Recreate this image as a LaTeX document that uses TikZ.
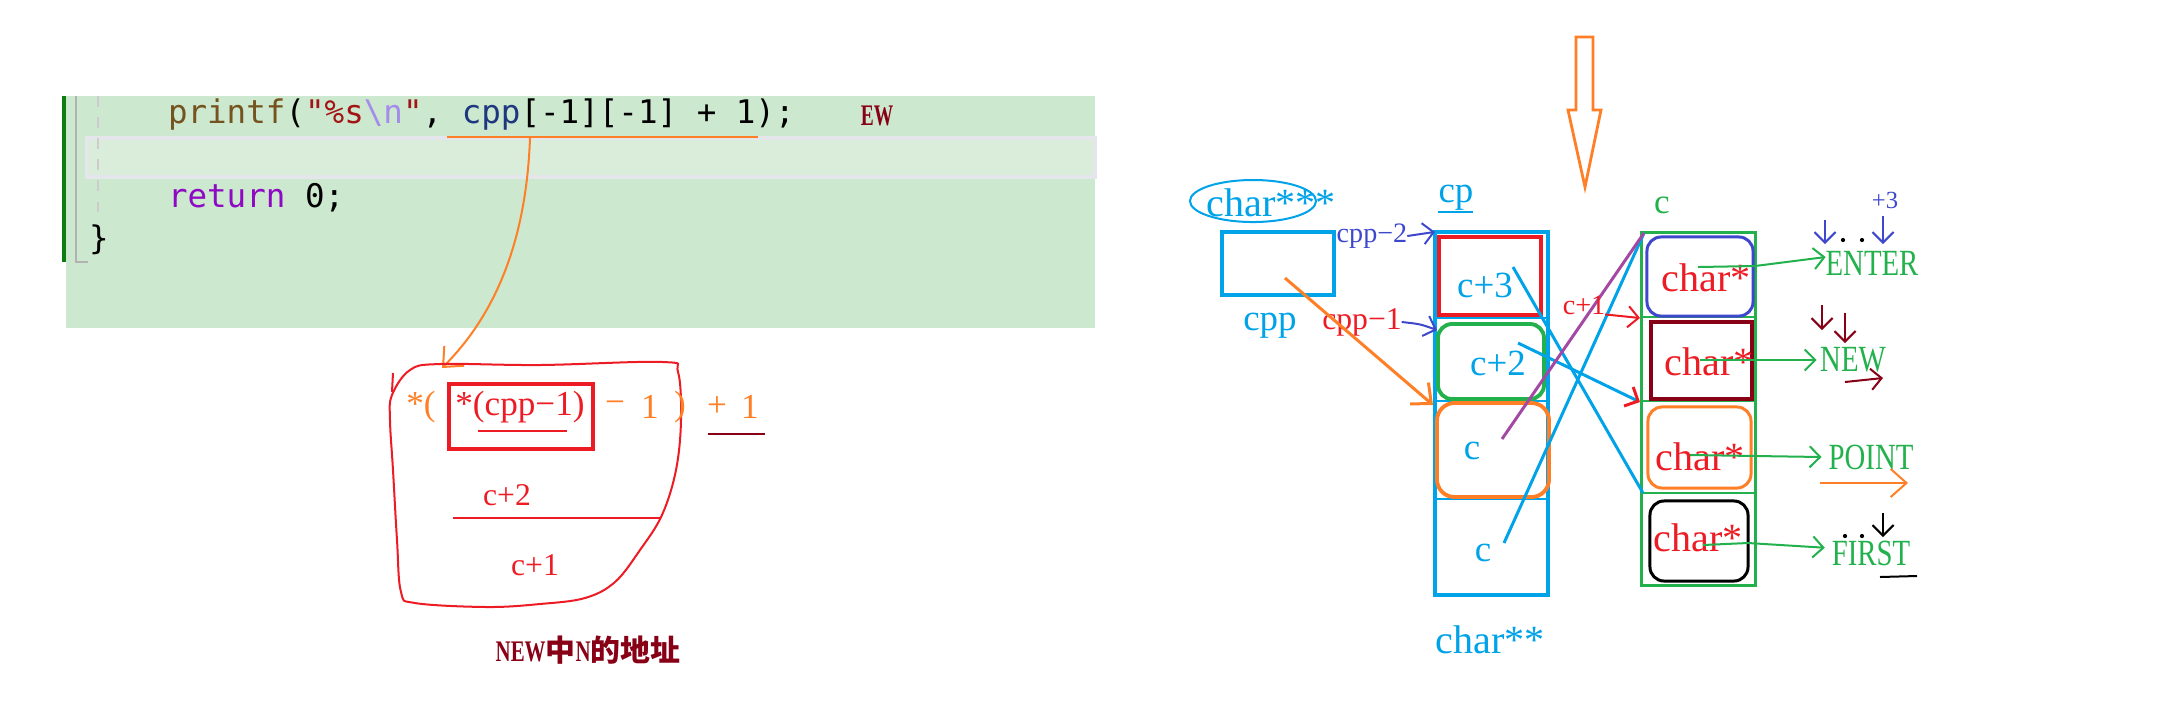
\documentclass[tikz,border=0pt]{standalone}
\usepackage{fontspec}
\setmainfont{Liberation Serif}
\newfontfamily\codefont{DejaVu Sans Mono}
\newfontfamily\cjk{Noto Sans CJK SC}
\usepackage{graphicx}
\usepackage{xcolor}
\usepackage{tikz}
\usetikzlibrary{arrows.meta,shapes,positioning,calc}

\definecolor{pblue}{RGB}{0,162,232}
\definecolor{pred}{RGB}{237,28,36}
\definecolor{pgreen}{RGB}{34,177,76}
\definecolor{porange}{RGB}{255,127,39}
\definecolor{pindigo}{RGB}{63,72,204}
\definecolor{pdarkred}{RGB}{136,0,21}
\definecolor{ppurple}{RGB}{163,73,164}
\definecolor{codebg}{RGB}{204,232,207}
\definecolor{codehl}{RGB}{218,237,219}
\definecolor{hlborder}{RGB}{228,230,235}
\definecolor{fnbrown}{RGB}{116,83,31}
\definecolor{strred}{RGB}{163,21,21}
\definecolor{esclav}{RGB}{165,140,235}
\definecolor{varblue}{RGB}{31,55,127}
\definecolor{kwpurple}{RGB}{143,8,196}
\definecolor{gutter}{RGB}{16,124,16}

\newcommand{\narrowtxt}[2][0.78]{\scalebox{#1}[1]{#2}}

\begin{document}
\begin{tikzpicture}[x=0.01cm, y=-0.01cm,
    every node/.style={inner sep=0pt, outer sep=0pt},
    code/.style={anchor=west, font=\codefont\fontsize{9.25}{11}\selectfont},
    hand/.style={font=\fontsize{10}{12}\selectfont},
    small/.style={font=\fontsize{8}{10}\selectfont},
    mid/.style={font=\fontsize{9}{11}\selectfont},
    big/.style={font=\fontsize{11.4}{13}\selectfont},
    word/.style={text=pgreen, font=\fontsize{10.5}{12}\selectfont},
    pen/.style={line width=0.57pt},
    fatpen/.style={line width=1.1pt},
    barb/.style={-{Straight Barb[length=3pt,width=6pt]}},
    bigbarb/.style={-{Straight Barb[length=4.5pt,width=8pt]}},
]
\useasboundingbox (0,0) rectangle (2162,720);

% Code window
\fill[codebg] (66,96) rectangle (1095,328);
\filldraw[fill=codehl, draw=hlborder, line width=1pt] (87,138) rectangle (1095,177);
\draw[gutter, line width=1.2pt] (64,96) -- (64,262);
\draw[gray!60, line width=0.5pt] (76,96) -- (76,262) -- (88,262);
\draw[gray!40, dashed, line width=0.5pt] (98,96) -- (98,218);
\node[code] (line1) at (168,115) {\textcolor{fnbrown}{printf}(\textcolor{strred}{"\%s}\textcolor{esclav}{\textbackslash n}\textcolor{strred}{"}, \textcolor{varblue}{cpp}[-1][-1] + 1);};
\node[code] (line2) at (168,198) {\textcolor{kwpurple}{return} 0;};
\node[code, anchor=center] (line3) at (99,240) {\}};
\node[font=\bfseries\fontsize{8.5}{10}\selectfont, text=pdarkred] (ew) at (877,116) {\narrowtxt[0.65]{EW}};

% Underline and pointer to the expansion
\coordinate (ulA) at (447,137);
\coordinate (ulB) at (758,137);
\coordinate (ulmid) at (530,138);
\coordinate (tip) at (442,368);
\draw[porange, pen] (ulA) -- (ulB);
\draw[porange, pen, bigbarb] (ulmid) .. controls (526,250) and (490,320) .. (tip);

% Expansion
\draw[pred, pen] plot[smooth cycle, tension=0.6] coordinates {(392,395) (410,370) (440,364) (540,365) (663,362) (678,372) (681,420) (676,470) (662,515) (640,550) (615,582) (585,598) (540,604) (487,607) (415,603) (401,592) (397,540) (393,470) (390,420)};
\draw[pred, pen] (393,373) -- (392,392);
\node[hand, text=porange] (star) at (421,407) {*(};
\node[draw=pred, fatpen, minimum width=1.44cm, minimum height=0.65cm] (inbox) at (521,416.5) {};
\node[hand, text=pred] (inner) at (520,407) {*(cpp−1)};
\draw[pred, pen] (478,431) -- (567,431);
\foreach \x/\t [count=\i] in {615/−,650/1,680/),717/+,750/1}
  \node[hand, text=porange] (tail\i) at (\x,407) {\t};
\draw[pdarkred, pen] (708,434) -- (765,434);
\node[mid, text=pred] (ctwo) at (507,495) {c+2};
\draw[pred, pen] (453,518) -- (660,518);
\node[mid, text=pred] (cone) at (535,565) {c+1};
\node[font=\bfseries\fontsize{8.5}{10}\selectfont, text=pdarkred] (addr) at (588,650) {\narrowtxt[0.7]{NEW}{\cjk 中}\narrowtxt[0.7]{N}{\cjk 的地址}};

% Big arrow
\draw[porange, line width=0.8pt] (1576,37) -- (1593,37) -- (1593,110) -- (1601,110) -- (1585,187) -- (1568,110) -- (1576,110) -- cycle;

% cpp
\draw[pblue, pen] (1253,201) ellipse [x radius=0.63cm, y radius=0.21cm];
\node[big, text=pblue] (ptr3) at (1271,203) {char***};
\node[draw=pblue, fatpen, minimum width=1.12cm, minimum height=0.63cm] (cppbox) at (1278,263.5) {};
\node[hand, text=pblue, font=\fontsize{10.5}{12}\selectfont] (cpplbl) at (1270,326) {cpp};
\node[small, text=pindigo] (cppm2) at (1372,236) {cpp−2};
\node[mid, text=pred] (cppm1) at (1362,322) {cpp−1};

% char** column
\node[draw=pblue, fatpen, minimum width=1.13cm, minimum height=3.63cm] (cparr) at (1491.5,413.5) {};
\foreach \y in {318,401,499}
  \draw[pblue, pen] (1435,\y) -- (1548,\y);
\node[draw=pred, fatpen, minimum width=1.02cm, minimum height=0.78cm] (cpa) at (1490,276) {};
\node[draw=pgreen, fatpen, rounded corners=4pt, minimum width=1.06cm, minimum height=0.75cm] (cpb) at (1491,361.5) {};
\node[draw=porange, fatpen, rounded corners=5pt, minimum width=1.12cm, minimum height=0.94cm] (cpc) at (1493,450) {};
\node[hand, text=pblue, font=\fontsize{10.5}{12}\selectfont] (cp) at (1456,198) {cp};
\draw[pblue, pen] (1438,212) -- (1473,212);
\node[hand, text=pblue, font=\fontsize{10.5}{12}\selectfont] (tcA) at (1485,285) {c+3};
\node[hand, text=pblue, font=\fontsize{10.5}{12}\selectfont] (tcB) at (1498,363) {c+2};
\node[hand, text=pblue, font=\fontsize{10.5}{12}\selectfont] (tcC) at (1472,451) {c};
\node[hand, text=pblue, font=\fontsize{10.5}{12}\selectfont] (tcD) at (1483,553) {c};
\node[big, text=pblue] (ptr2) at (1490,640) {char**};

% c column
\node[draw=pgreen, line width=0.85pt, minimum width=1.13cm, minimum height=3.52cm] (carr) at (1698.5,409) {};
\foreach \y in {317,401,493}
  \draw[pgreen, pen] (1642,\y) -- (1755,\y);
\node[draw=pindigo, line width=0.85pt, rounded corners=4pt, minimum width=1.06cm, minimum height=0.79cm] (ca) at (1700,276.5) {};
\node[draw=pdarkred, fatpen, minimum width=1.01cm, minimum height=0.77cm] (cb) at (1701.5,360.5) {};
\node[draw=porange, line width=0.85pt, rounded corners=4pt, minimum width=1.03cm, minimum height=0.81cm] (cc) at (1699.5,447.5) {};
\node[draw=black, line width=0.85pt, rounded corners=4pt, minimum width=0.98cm, minimum height=0.80cm] (cd) at (1699,541) {};
\node[hand, text=pgreen] (clbl) at (1662,205) {c};
\node[big, text=pred] (sA) at (1706,278) {char*};
\node[big, text=pred] (sB) at (1709,362) {char*};
\node[big, text=pred] (sC) at (1700,457) {char*};
\node[big, text=pred] (sD) at (1698,538) {char*};

% Strings
\node[word] (enter) at (1872,263) {\narrowtxt{ENTER}};
\node[word] (new) at (1853,360) {\narrowtxt{NEW}};
\node[word] (point) at (1871,457) {\narrowtxt{POINT}};
\node[word] (first) at (1871,553) {\narrowtxt{FIRST}};

% Pointer arrows
\coordinate (gA) at (1698,267);
\coordinate (gAk) at (1755,266);
\coordinate (gB) at (1700,360);
\coordinate (gC) at (1690,455);
\coordinate (gD) at (1703,545);
\coordinate (gDk) at (1748,543);
\draw[pgreen, pen, barb] (gA) -- (gAk) -- ([yshift=1.7pt]enter.west);
\draw[pgreen, pen, barb] (gB) -- ([xshift=-1pt]new.west);
\draw[pgreen, pen, barb] (gC) -- ([xshift=-2pt]point.west);
\draw[pgreen, pen, barb] (gD) -- (gDk) -- ([xshift=-2pt, yshift=1.5pt]first.west);

% Crossing lines
\coordinate (xA) at (1513,267);
\coordinate (xAe) at (1643,493);
\coordinate (xB) at (1518,343);
\coordinate (xBe) at (1640,402);
\coordinate (xC) at (1502,439);
\coordinate (xD) at (1504,543);
\coordinate (ctop) at (1644,233);
\draw[pblue, line width=0.85pt] (xA) -- (xAe);
\draw[pblue, line width=0.85pt, -{Straight Barb[length=3pt,width=6pt,color=pred]}] (xB) -- (xBe);
\draw[pblue, line width=0.85pt] (xD) -- (ctop);
\draw[ppurple, line width=0.85pt] (xC) -- (ctop);
\node[small, text=pred] (cplus) at (1584,305) {c+1};
\coordinate (cplusE) at (1640,318);
\draw[pred, pen, barb] (cplus.south east) -- (cplusE);

% cpp arrows
\coordinate (cppin) at (1285,278);
\coordinate (cpcTop) at (1433,405);
\draw[porange, line width=0.85pt, bigbarb] (cppin) -- (cpcTop);
\draw[pindigo, pen, barb] (cppm2.east) -- (cparr.north west);
\coordinate (cpbIn) at (1437,330);
\draw[pindigo, pen, barb] (cppm1.east) .. controls (1420,324) .. (cpbIn);

% Scribbles
\node[font=\fontsize{7}{8}\selectfont, text=pindigo] (plus3) at (1885,200) {+3};
\coordinate (dA1) at (1825,220); \coordinate (dA2) at (1825,244);
\coordinate (dB1) at (1883,216); \coordinate (dB2) at (1883,244);
\draw[pindigo, pen, barb] (dA1) -- (dA2);
\draw[pindigo, pen, barb] (dB1) -- (dB2);
\fill (1843,240) circle (0.6pt);
\fill (1862,240) circle (0.6pt);
\coordinate (rA1) at (1822,305); \coordinate (rA2) at (1822,330);
\coordinate (rB1) at (1845,313); \coordinate (rB2) at (1845,343);
\coordinate (rC1) at (1845,382); \coordinate (rC2) at (1883,378);
\draw[pdarkred, pen, barb] (rA1) -- (rA2);
\draw[pdarkred, pen, barb] (rB1) -- (rB2);
\draw[pdarkred, pen, barb] (rC1) -- (rC2);
\coordinate (oA) at (1820,483); \coordinate (oB) at (1908,483);
\draw[porange, pen, bigbarb] (oA) -- (oB);
\coordinate (kA1) at (1883,513); \coordinate (kA2) at (1883,537);
\draw[black, pen, barb] (kA1) -- (kA2);
\fill (1845,536) circle (0.6pt);
\fill (1862,536) circle (0.6pt);
\draw[black, pen] (1880,577) -- (1917,576);

\end{tikzpicture}
\end{document}
